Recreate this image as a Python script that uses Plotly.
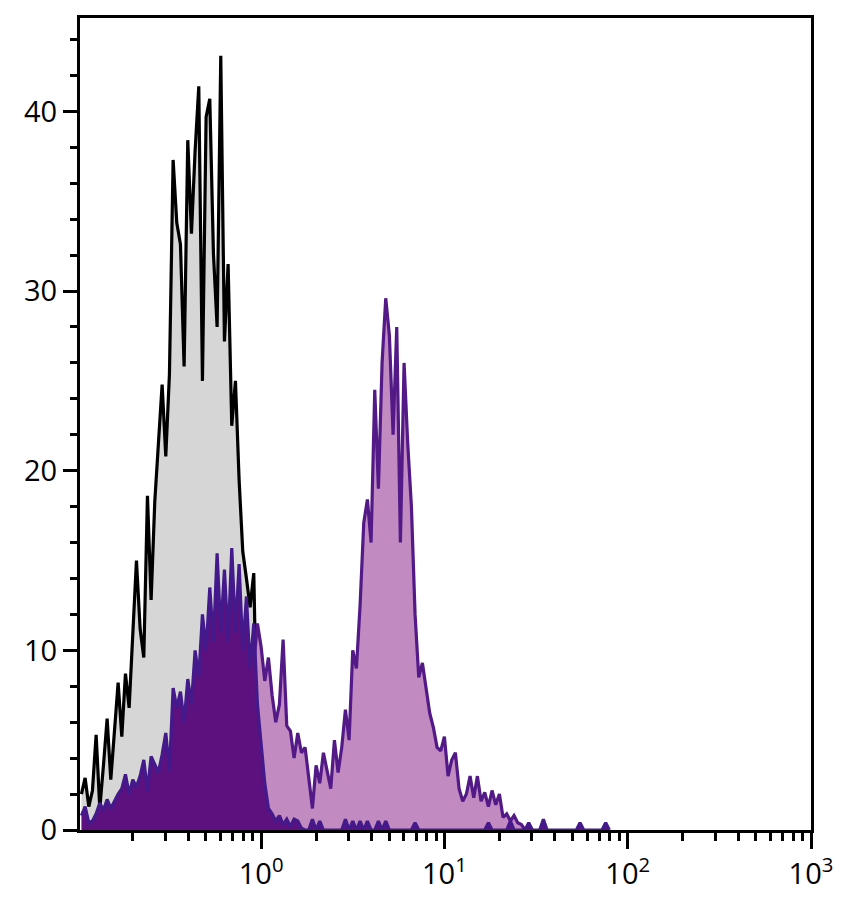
import numpy as np
import plotly.graph_objects as go

# Histogram channel grid (log10 of fluorescence intensity)
BIN_LOG_START = -0.98
BIN_LOG_STEP = 0.02

# Isotype control (grey fill, black outline), starts at bin 0
isotype_counts = [
    2.0, 2.9, 1.3, 2.2, 5.3, 1.2, 3.6, 6.2, 2.8, 5.6,
    8.2, 5.2, 8.7, 6.8, 10.6, 15.0, 11.2, 9.6, 18.6, 12.8,
    18.3, 21.5, 24.8, 20.8, 25.4, 37.3, 33.8, 32.6, 25.8, 38.4,
    33.2, 37.8, 41.4, 25.0, 39.7, 40.7, 32.1, 28.0, 43.1, 27.2,
    31.5, 22.5, 25.0, 19.5, 15.5, 14.0, 12.4, 14.3, 4.0, 0.5,
    0.0,
]

# Stained sample (light purple fill), starts at bin 44
stained_start_bin = 44
stained_counts = [
    7.0, 8.0, 7.0, 9.5, 11.5, 10.2, 8.3, 9.6, 7.5, 6.0,
    7.0, 10.6, 5.8, 5.5, 4.0, 5.4, 4.3, 4.6, 3.0, 1.2,
    3.6, 2.6, 4.3, 3.2, 2.3, 5.0, 3.2, 4.6, 6.7, 5.0,
    10.0, 9.0, 12.5, 17.1, 18.4, 16.0, 24.5, 19.0, 26.0, 29.6,
    27.5, 22.0, 28.0, 16.0, 26.0, 21.5, 18.0, 12.0, 8.5, 9.3,
    8.0, 6.5, 5.7, 4.6, 4.4, 5.2, 3.0, 3.9, 4.3, 2.3,
    1.6, 2.0, 3.0, 1.8, 3.0, 1.6, 2.1, 1.3, 2.2, 1.4,
    2.0, 0.7, 0.9, 0.5, 0.8, 0.4, 0.3, 0.0,
]

# Unstained / negative sample (dark purple fill), starts at bin 0
unstained_start_bin = 0
unstained_counts = [
    0.8, 1.3, 0.4, 0.5, 0.9, 1.5, 1.1, 1.7, 1.2, 1.6,
    2.0, 2.3, 3.1, 2.0, 2.8, 2.4, 3.0, 3.9, 2.2, 4.1,
    3.6, 3.2, 4.2, 5.4, 3.3, 7.9, 6.8, 7.7, 6.0, 8.4,
    7.0, 10.0, 8.5, 12.0, 10.0, 13.5, 10.5, 15.4, 11.0, 14.5,
    10.5, 15.7, 11.0, 14.8, 10.0, 13.0, 9.0, 11.5, 7.0, 5.0,
    2.6, 1.2, 0.9, 0.5, 0.8, 0.3, 0.6, 0.2, 0.6, 0.5,
    0.1, 0.0, 0.0, 0.6, 0.0, 0.5, 0.0, 0.0, 0.0, 0.0,
    0.0, 0.0, 0.6, 0.0, 0.5, 0.0, 0.5, 0.0, 0.5, 0.0,
    0.0, 0.5, 0.0, 0.5, 0.0, 0.0, 0.0, 0.0, 0.0, 0.0,
    0.0, 0.4, 0.0, 0.0, 0.0, 0.0, 0.0, 0.0, 0.0, 0.0,
    0.0, 0.0, 0.0, 0.0, 0.0, 0.0, 0.0, 0.0, 0.0, 0.0,
    0.0, 0.4, 0.0, 0.0, 0.0, 0.0, 0.0, 0.5, 0.0, 0.0,
    0.0, 0.0, 0.4, 0.0, 0.0, 0.0, 0.6, 0.0, 0.0, 0.0,
    0.0, 0.0, 0.0, 0.0, 0.0, 0.0, 0.4, 0.0, 0.0, 0.0,
    0.0, 0.0, 0.0, 0.4, 0.0,
]

x_tick_values = [1, 10, 100, 1000]
x_tick_labels = ["10<sup>0</sup>", "10<sup>1</sup>", "10<sup>2</sup>", "10<sup>3</sup>"]
x_minor_values = [m * 10.0 ** d for d in range(-1, 3) for m in range(2, 10)]
y_tick_values = [0, 10, 20, 30, 40]
y_tick_labels = ["0", "10", "20", "30", "40"]


def bin_centers(start, n):
    idx = np.arange(start, start + n)
    return 10 ** (BIN_LOG_START + BIN_LOG_STEP * idx)


fig = go.Figure()

fig.add_trace(go.Scatter(
    x=bin_centers(0, len(isotype_counts)), y=isotype_counts,
    mode="lines", fill="tozeroy", fillcolor="#d6d6d6",
    line=dict(color="black", width=3.2), name="Isotype",
))
fig.add_trace(go.Scatter(
    x=bin_centers(stained_start_bin, len(stained_counts)), y=stained_counts,
    mode="lines", fill="tozeroy", fillcolor="#c18bc1",
    line=dict(color="#521987", width=3.2), name="Stained",
))
fig.add_trace(go.Scatter(
    x=bin_centers(unstained_start_bin, len(unstained_counts)), y=unstained_counts,
    mode="lines", fill="tozeroy", fillcolor="#5c117f",
    line=dict(color="#43198c", width=3.2), name="Unstained",
))

# The page body has an 8px default margin, so the figure is sized to fit inside it.
fig.update_layout(
    width=836, height=896,
    margin=dict(l=72, r=33, t=10, b=74),
    paper_bgcolor="white", plot_bgcolor="white",
    showlegend=False,
    font=dict(family="Open Sans", size=29, color="black"),
)

fig.update_xaxes(
    type="log", range=[-0.988, 3.0], automargin=False,
    showline=True, linewidth=3, linecolor="black", mirror=True,
    showgrid=False, zeroline=False,
    ticks="outside", ticklen=16, tickwidth=3, tickcolor="black",
    tickmode="array", tickvals=x_tick_values, ticktext=x_tick_labels,
    minor=dict(ticks="outside", ticklen=8, tickwidth=2.5, tickcolor="black",
               tickmode="array", tickvals=x_minor_values, showgrid=False),
)
fig.update_yaxes(
    range=[0, 45.2], automargin=False,
    showline=True, linewidth=3, linecolor="black", mirror=True,
    showgrid=False, zeroline=False,
    ticks="outside", ticklen=14, tickwidth=3, tickcolor="black",
    tickmode="array", tickvals=y_tick_values, ticktext=y_tick_labels,
    minor=dict(ticks="outside", ticklen=7, tickwidth=2.5, tickcolor="black",
               dtick=2, showgrid=False),
)

fig.write_html("out.html")
